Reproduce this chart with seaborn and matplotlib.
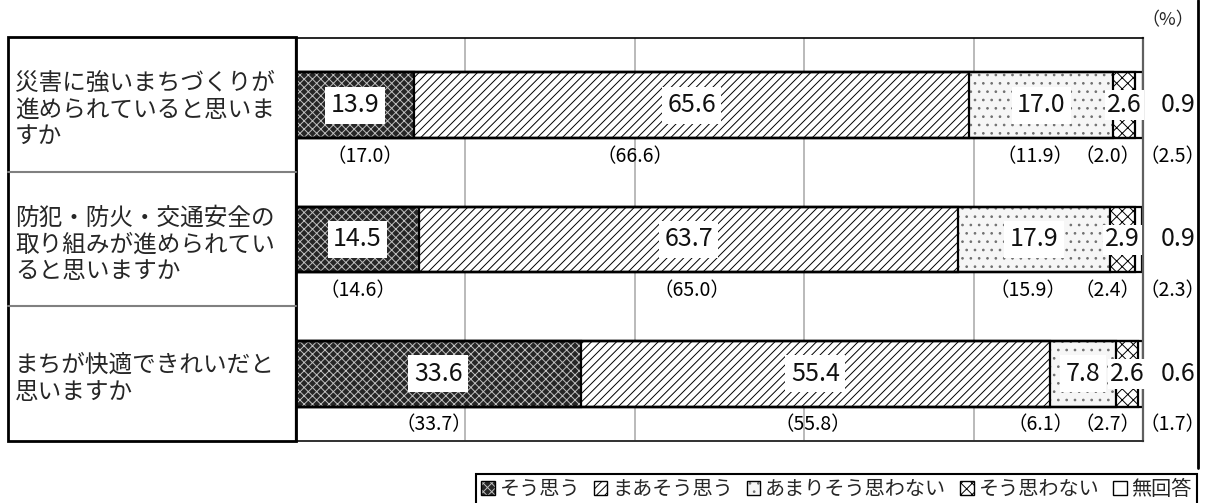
import matplotlib
matplotlib.use("Agg")
import numpy as np
import pandas as pd
import matplotlib.pyplot as plt
import seaborn as sns
from matplotlib import transforms
from matplotlib.patches import Patch, Rectangle
from matplotlib.lines import Line2D
from matplotlib.legend_handler import HandlerTuple

# ----------------------------
# Daten
# ----------------------------
questions = [
    "災害に強いまちづくりが\n進められていると思いま\nすか",
    "防犯・防火・交通安全の\n取り組みが進められてい\nると思いますか",
    "まちが快適できれいだと\n思いますか",
]
categories = ["そう思う", "まあそう思う", "あまりそう思わない", "そう思わない", "無回答"]
current = [
    [13.9, 65.6, 17.0, 2.6, 0.9],
    [14.5, 63.7, 17.9, 2.9, 0.9],
    [33.6, 55.4, 7.8, 2.6, 0.6],
]
previous = [
    [17.0, 66.6, 11.9, 2.0, 2.5],
    [14.6, 65.0, 15.9, 2.4, 2.3],
    [33.7, 55.8, 6.1, 2.7, 1.7],
]

# Lage der Vorjahreswerte (in %-Achse), von Hand gesetzt wie im Original
prev_label_x = [
    [8.1, 40.0, 87.3, 95.8, 103.5],
    [7.3, 46.8, 86.4, 95.8, 103.5],
    [16.3, 61.0, 87.9, 95.8, 103.5],
]

# Muster je Kategorie: (Füllfarbe, Schraffur, Schraffurfarbe)
styles = [
    ("#262626", "xxxx", "#c0c0c0"),
    ("white", "////", "black"),
    ("#f6f6f6", "..", "#707070"),
    ("white", "xxx", "black"),
    ("white", None, "white"),
]

W, H = 1207, 503
keys = ["Q1", "Q2", "Q3"]

sns.set_theme(style="white")
plt.rcParams["font.family"] = ["Noto Sans CJK JP", "DejaVu Sans"]
plt.rcParams["hatch.linewidth"] = 0.7

fig = plt.figure(figsize=(W / 100, H / 100), dpi=100)
ax = fig.add_axes([296 / W, 1 - 441 / H, (1143 - 296) / W, (441 - 38) / H])

cum = np.cumsum(np.array(current), axis=1)

# gestapelte Balken: von der längsten Summe zur kürzesten
for k in reversed(range(len(categories))):
    n0 = len(ax.patches)
    sns.barplot(x=cum[:, k], y=keys, orient="h", width=0.49, errorbar=None,
                color="white", ax=ax)
    fc, hatch, hc = styles[k]
    for p in ax.patches[n0:]:
        p.set_facecolor(fc)
        p.set_edgecolor(hc)
        p.set_linewidth(0)
        if hatch:
            p.set_hatch(hatch)

# Umrisse
for k in range(len(categories)):
    sns.barplot(x=cum[:, k], y=keys, orient="h", width=0.49, errorbar=None,
                fill=False, color="black", linewidth=1.6, ax=ax)

ax.set_xlim(0, 100)
ax.set_ylim(2.5, -0.5)
ax.set_xticks([20, 40, 60, 80])
ax.set_xticklabels([])
ax.set_yticks([])
ax.set_xlabel("")
ax.set_ylabel("")
ax.tick_params(length=0)
ax.grid(axis="x", color="#b4b4b4", linewidth=1.3)
ax.set_axisbelow(True)
for side, col, lw in [("left", "black", 1.6), ("top", "black", 1.2),
                      ("bottom", "#303030", 1.4), ("right", "#606060", 1.6)]:
    ax.spines[side].set_color(col)
    ax.spines[side].set_linewidth(lw)
    ax.spines[side].set_visible(True)

# Werte im Balken
for i, row in enumerate(current):
    starts = np.concatenate([[0], cum[i, :-1]])
    for k, v in enumerate(row):
        x = starts[k] + v / 2 if k < 4 else 104.2
        pad = 4.0 if k < 3 else 1.5
        ax.text(x, i, f"{v:.1f}", ha="center", va="center", fontsize=18,
                color="#111111", clip_on=False, zorder=5,
                bbox=dict(facecolor="white", edgecolor="none", pad=pad))
    for k, v in enumerate(previous[i]):
        ax.text(prev_label_x[i][k], i + 0.38, f"（{v:.1f}）", ha="center",
                va="center", fontsize=14, color="black", clip_on=False)

# Fragen-Tabelle links
fig.add_artist(Rectangle((8 / W, 1 - 441 / H), (296 - 8) / W, (441 - 37) / H,
                         transform=fig.transFigure, fill=False,
                         edgecolor="black", linewidth=2))
for yy in [172, 306]:
    fig.add_artist(Line2D([8 / W, 296 / W], [1 - yy / H] * 2,
                          transform=fig.transFigure, color="#808080", linewidth=1.5))
trans = transforms.blended_transform_factory(fig.transFigure, ax.transData)
for i, q in enumerate(questions):
    ax.text(15 / W, i + 0.04, q, transform=trans, ha="left", va="center",
            fontsize=17, linespacing=1.22, clip_on=False)

# rechter Rahmen
fig.add_artist(Line2D([1198 / W] * 2, [1, 1 - 468 / H],
                      transform=fig.transFigure, color="black", linewidth=2))

fig.text(1168 / W, 1 - 20 / H, "（%）", ha="center", va="center", fontsize=13)

# Legende
handles = []
for fc, hatch, hc in styles:
    fill = Patch(facecolor=fc, edgecolor=hc, hatch=hatch, linewidth=0)
    edge = Patch(facecolor="none", edgecolor="black", linewidth=1)
    handles.append((fill, edge))
leg = fig.legend(handles, categories, loc="upper right",
                 bbox_to_anchor=(1197 / W, 1 - 474 / H), ncol=5,
                 handler_map={tuple: HandlerTuple(ndivide=1, pad=0)},
                 frameon=True, fancybox=False, framealpha=1, edgecolor="black",
                 fontsize=14.5, handlelength=0.65, handleheight=0.65,
                 handletextpad=0.25, columnspacing=0.7, borderpad=0.25,
                 borderaxespad=0)
leg.get_frame().set_linewidth(1.5)

fig.savefig("out.png", dpi=100, facecolor="white")
